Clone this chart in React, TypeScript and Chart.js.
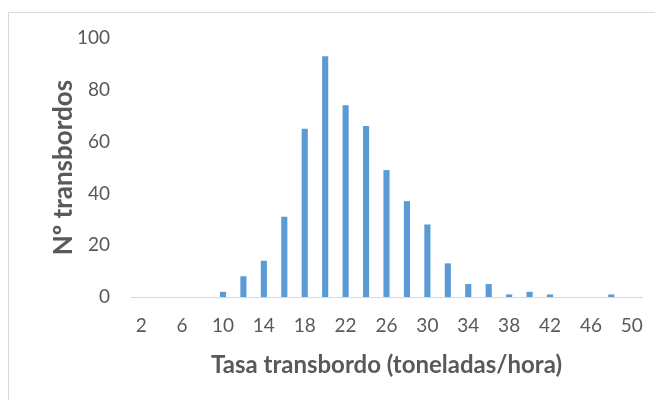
import React, { useEffect, useRef } from "react";
import { Chart, registerables } from "chart.js";

Chart.register(...registerables);

const categories = ["2","4","6","8","10","12","14","16","18","20","22","24","26","28","30","32","34","36","38","40","42","44","46","48","50"];
const counts = [0,0,0,0,2,8,14,31,65,93,74,66,49,37,28,13,5,5,1,2,1,0,0,1,0];
const yTicks = [0, 20, 40, 60, 80, 100];
const xTitle = "Tasa transbordo (toneladas/hora)";
const yTitle = "Nº transbordos";

const TEXT = "#595959";
const FONT = "Lato, 'Open Sans', sans-serif";

export default function App() {
  const ref = useRef<HTMLCanvasElement>(null);
  useEffect(() => {
    if (!ref.current) return;
    const chart = new Chart(ref.current, {
      type: "bar",
      data: {
        labels: categories,
        datasets: [{ data: counts, backgroundColor: "#5B9BD5", barPercentage: 0.3, categoryPercentage: 1 }],
      },
      options: {
        animation: false,
        responsive: false,
        maintainAspectRatio: false,
        layout: { padding: { left: 39, right: 21, top: 0, bottom: 10 } },
        plugins: { legend: { display: false }, tooltip: { enabled: false } },
        scales: {
          x: {
            grid: { display: false, drawTicks: false },
            border: { display: true, color: "#D9D9D9", width: 1 },
            ticks: {
              autoSkip: false,
              maxRotation: 0,
              padding: 17,
              color: TEXT,
              font: { family: FONT, size: 19 },
              callback: (_v: any, i: number) => (i % 2 === 0 ? categories[i] : ""),
            },
            title: { display: true, text: xTitle, color: TEXT, font: { family: FONT, size: 24, weight: "bold" }, padding: { top: 0, bottom: 10 } },
            afterFit: (s: any) => { s.height = 93; },
          },
          y: {
            min: 0,
            max: 100,
            grid: { display: false, drawTicks: false },
            border: { display: false },
            afterBuildTicks: (s: any) => { s.ticks = yTicks.map((v) => ({ value: v })); },
            ticks: { padding: 21, color: TEXT, font: { family: FONT, size: 19 } },
            title: { display: true, text: yTitle, color: TEXT, font: { family: FONT, size: 26, weight: "bold" }, padding: 0 },
            afterFit: (s: any) => { s.width = 83; s.paddingTop = 25; s.paddingBottom = 12; },
          },
        },
      },
    });
    return () => chart.destroy();
  }, []);
  return (
    <div style={{ paddingTop: 4 }}>
      <div style={{ width: 655, height: 388, borderTop: "1px solid #D9D9D9", borderLeft: "1px solid #D9D9D9", background: "#fff", boxSizing: "border-box" }}>
        <canvas ref={ref} width={654} height={387} style={{ display: "block" }} />
      </div>
    </div>
  );
}
